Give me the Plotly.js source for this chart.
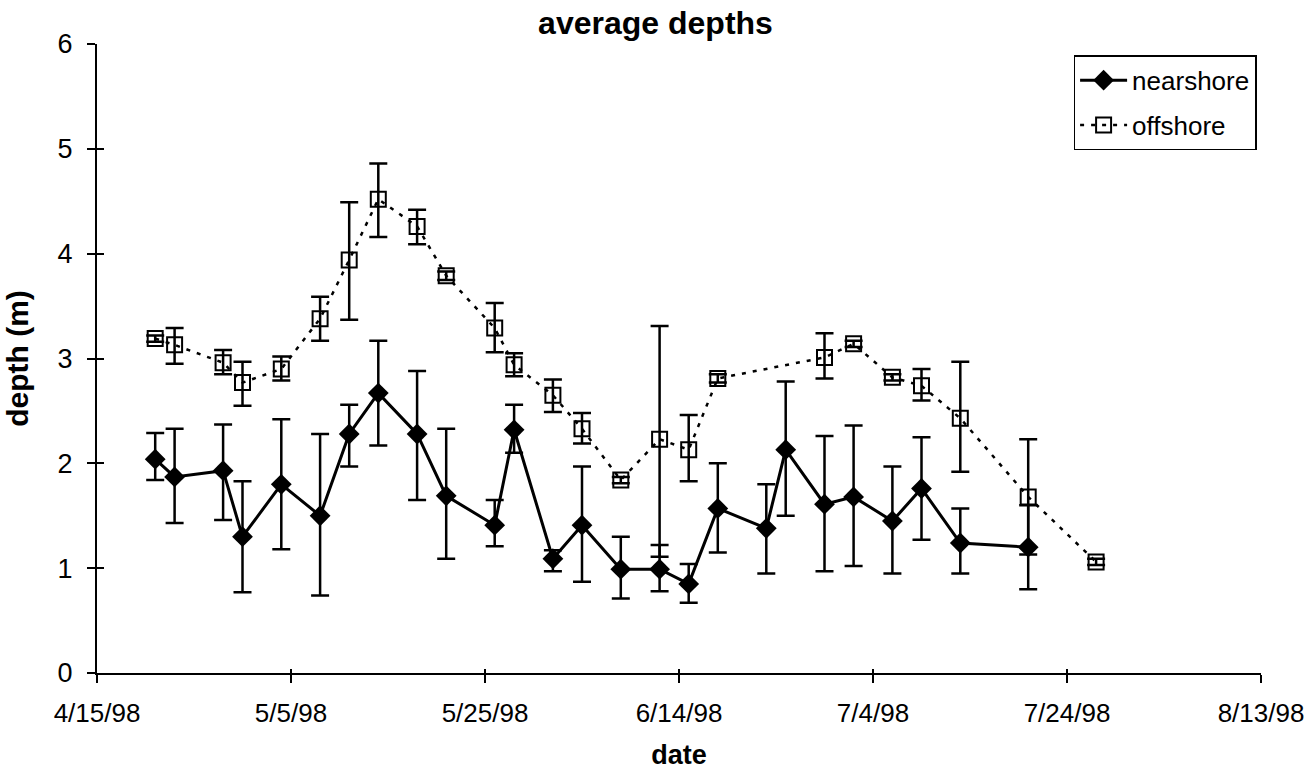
<!DOCTYPE html>
<html>
<head>
<meta charset="utf-8">
<script src="https://cdn.plot.ly/plotly-3.0.1.min.js"></script>
<style>html,body{margin:0;padding:0;background:#fff;}#chart{width:1311px;height:775px;}</style>
</head>
<body>
<div id="chart"></div>
<script>
// ---- data ----
const nearDates = ['1998-04-21','1998-04-23','1998-04-28','1998-04-30','1998-05-04','1998-05-08','1998-05-11','1998-05-14','1998-05-18','1998-05-21','1998-05-26','1998-05-28','1998-06-01','1998-06-04','1998-06-08','1998-06-12','1998-06-15','1998-06-18','1998-06-23','1998-06-25','1998-06-29','1998-07-02','1998-07-06','1998-07-09','1998-07-13','1998-07-20'];
const nearDepth = [2.04,1.87,1.93,1.30,1.80,1.50,2.28,2.67,2.28,1.69,1.41,2.32,1.09,1.41,0.99,0.99,0.85,1.57,1.38,2.13,1.61,1.68,1.45,1.76,1.24,1.20];
const nearErrPlus = [0.25,0.46,0.44,0.53,0.62,0.78,0.28,0.50,0.60,0.64,0.24,0.24,0.08,0.56,0.31,0.23,0.19,0.43,0.42,0.65,0.65,0.68,0.52,0.49,0.33,0.40];
const nearErrMinus = [0.20,0.44,0.47,0.53,0.62,0.76,0.31,0.50,0.63,0.60,0.20,0.22,0.12,0.54,0.28,0.21,0.18,0.42,0.43,0.63,0.64,0.66,0.50,0.49,0.29,0.40];

const offDates = ['1998-04-21','1998-04-23','1998-04-28','1998-04-30','1998-05-04','1998-05-08','1998-05-11','1998-05-14','1998-05-18','1998-05-21','1998-05-26','1998-05-28','1998-06-01','1998-06-04','1998-06-08','1998-06-12','1998-06-15','1998-06-18','1998-06-29','1998-07-02','1998-07-06','1998-07-09','1998-07-13','1998-07-20','1998-07-27'];
const offDepth = [3.19,3.13,2.96,2.77,2.90,3.38,3.94,4.52,4.26,3.79,3.29,2.94,2.65,2.33,1.84,2.23,2.13,2.81,3.01,3.14,2.82,2.74,2.43,1.68,1.06];
const offErrPlus = [0.03,0.16,0.12,0.20,0.12,0.21,0.55,0.34,0.16,0.04,0.24,0.11,0.15,0.15,0.03,1.08,0.33,0.04,0.23,0.03,0.03,0.16,0.54,0.55,0.03];
const offErrMinus = [0.03,0.18,0.11,0.22,0.11,0.21,0.57,0.36,0.17,0.04,0.23,0.11,0.16,0.14,0.03,1.12,0.30,0.04,0.20,0.03,0.03,0.14,0.51,0.55,0.03];

const xTickVals = ['1998-04-15','1998-05-05','1998-05-25','1998-06-14','1998-07-04','1998-07-24','1998-08-13'];
const xTickText = ['4/15/98','5/5/98','5/25/98','6/14/98','7/4/98','7/24/98','8/13/98'];
const yTickVals = [0,1,2,3,4,5,6];

const FONT = 'Liberation Sans, Arial, sans-serif';
const xRange = ['1998-04-15','1998-08-13'];
const yRange = [0,6];

const traces = [
  {
    x: nearDates, y: nearDepth, name: 'nearshore', type: 'scatter', mode: 'lines+markers',
    legendgroup: 'a',
    line: {color: '#000', width: 3},
    marker: {symbol: 'diamond', size: 16, color: '#000'},
    error_y: {type: 'data', symmetric: false, array: nearErrPlus, arrayminus: nearErrMinus,
              color: '#000', thickness: 2.5, width: 9}
  },
  {
    x: offDates, y: offDepth, name: 'offshore', type: 'scatter', mode: 'lines+markers',
    legendgroup: 'b',
    line: {color: '#000', width: 2.5, dash: '4px,7px'},
    marker: {symbol: 'square-open', size: 15, color: '#000', line: {width: 2, color: '#000'}},
    error_y: {type: 'data', symmetric: false, array: offErrPlus, arrayminus: offErrMinus,
              color: '#000', thickness: 2.5, width: 9}
  },
  // empty trace that only carries the inner half of the crossing tick marks
  {x: [], y: [], xaxis: 'x2', yaxis: 'y2', type: 'scatter', showlegend: false, hoverinfo: 'skip'}
];

const layout = {
  width: 1311, height: 775,
  paper_bgcolor: '#fff', plot_bgcolor: '#fff',
  margin: {l: 97, r: 50, t: 44, b: 102},
  font: {family: FONT, color: '#000', size: 26},
  showlegend: true,
  title: {
    text: 'average depths',
    font: {family: FONT, size: 32, weight: 'bold', color: '#000'},
    xref: 'container', x: 0.5, xanchor: 'center',
    yref: 'container', y: 0.97, yanchor: 'middle'
  },
  xaxis: {
    type: 'date', range: xRange, tickmode: 'array', tickvals: xTickVals, ticktext: xTickText,
    showgrid: false, zeroline: false, showline: true, linecolor: '#000', linewidth: 2,
    ticks: 'outside', ticklen: 8, tickwidth: 1.5, tickcolor: '#000',
    tickfont: {family: FONT, size: 26, color: '#000'}, ticklabelstandoff: 8,
    title: {text: 'date', font: {family: FONT, size: 27, weight: 'bold', color: '#000'}, standoff: 18},
    automargin: false
  },
  yaxis: {
    range: yRange, tickmode: 'array', tickvals: yTickVals,
    showgrid: false, zeroline: false, showline: true, linecolor: '#000', linewidth: 2,
    ticks: 'outside', ticklen: 8, tickwidth: 1.5, tickcolor: '#000',
    tickfont: {family: FONT, size: 27, color: '#000'}, ticklabelstandoff: 9,
    title: {text: 'depth (m)', font: {family: FONT, size: 30, weight: 'bold', color: '#000'}, standoff: 20},
    automargin: false
  },
  xaxis2: {
    type: 'date', range: xRange, tickmode: 'array', tickvals: xTickVals, overlaying: 'x', anchor: 'y2',
    showgrid: false, zeroline: false, showline: false, showticklabels: false,
    ticks: 'inside', ticklen: 4, tickwidth: 1.5, tickcolor: '#000', side: 'bottom'
  },
  yaxis2: {
    range: yRange, tickmode: 'array', tickvals: yTickVals, overlaying: 'y', anchor: 'x2',
    showgrid: false, zeroline: false, showline: false, showticklabels: false,
    ticks: 'inside', ticklen: 7, tickwidth: 1.5, tickcolor: '#000', side: 'left'
  },
  legend: {
    x: 0.839, y: 0.982, xanchor: 'left', yanchor: 'top',
    bgcolor: '#fff', bordercolor: '#000', borderwidth: 1.5,
    font: {family: FONT, size: 26, color: '#000'},
    traceorder: 'grouped', tracegroupgap: 8, itemwidth: 47
  }
};

Plotly.newPlot('chart', traces, layout, {displayModeBar: false, responsive: false});
</script>
</body>
</html>
